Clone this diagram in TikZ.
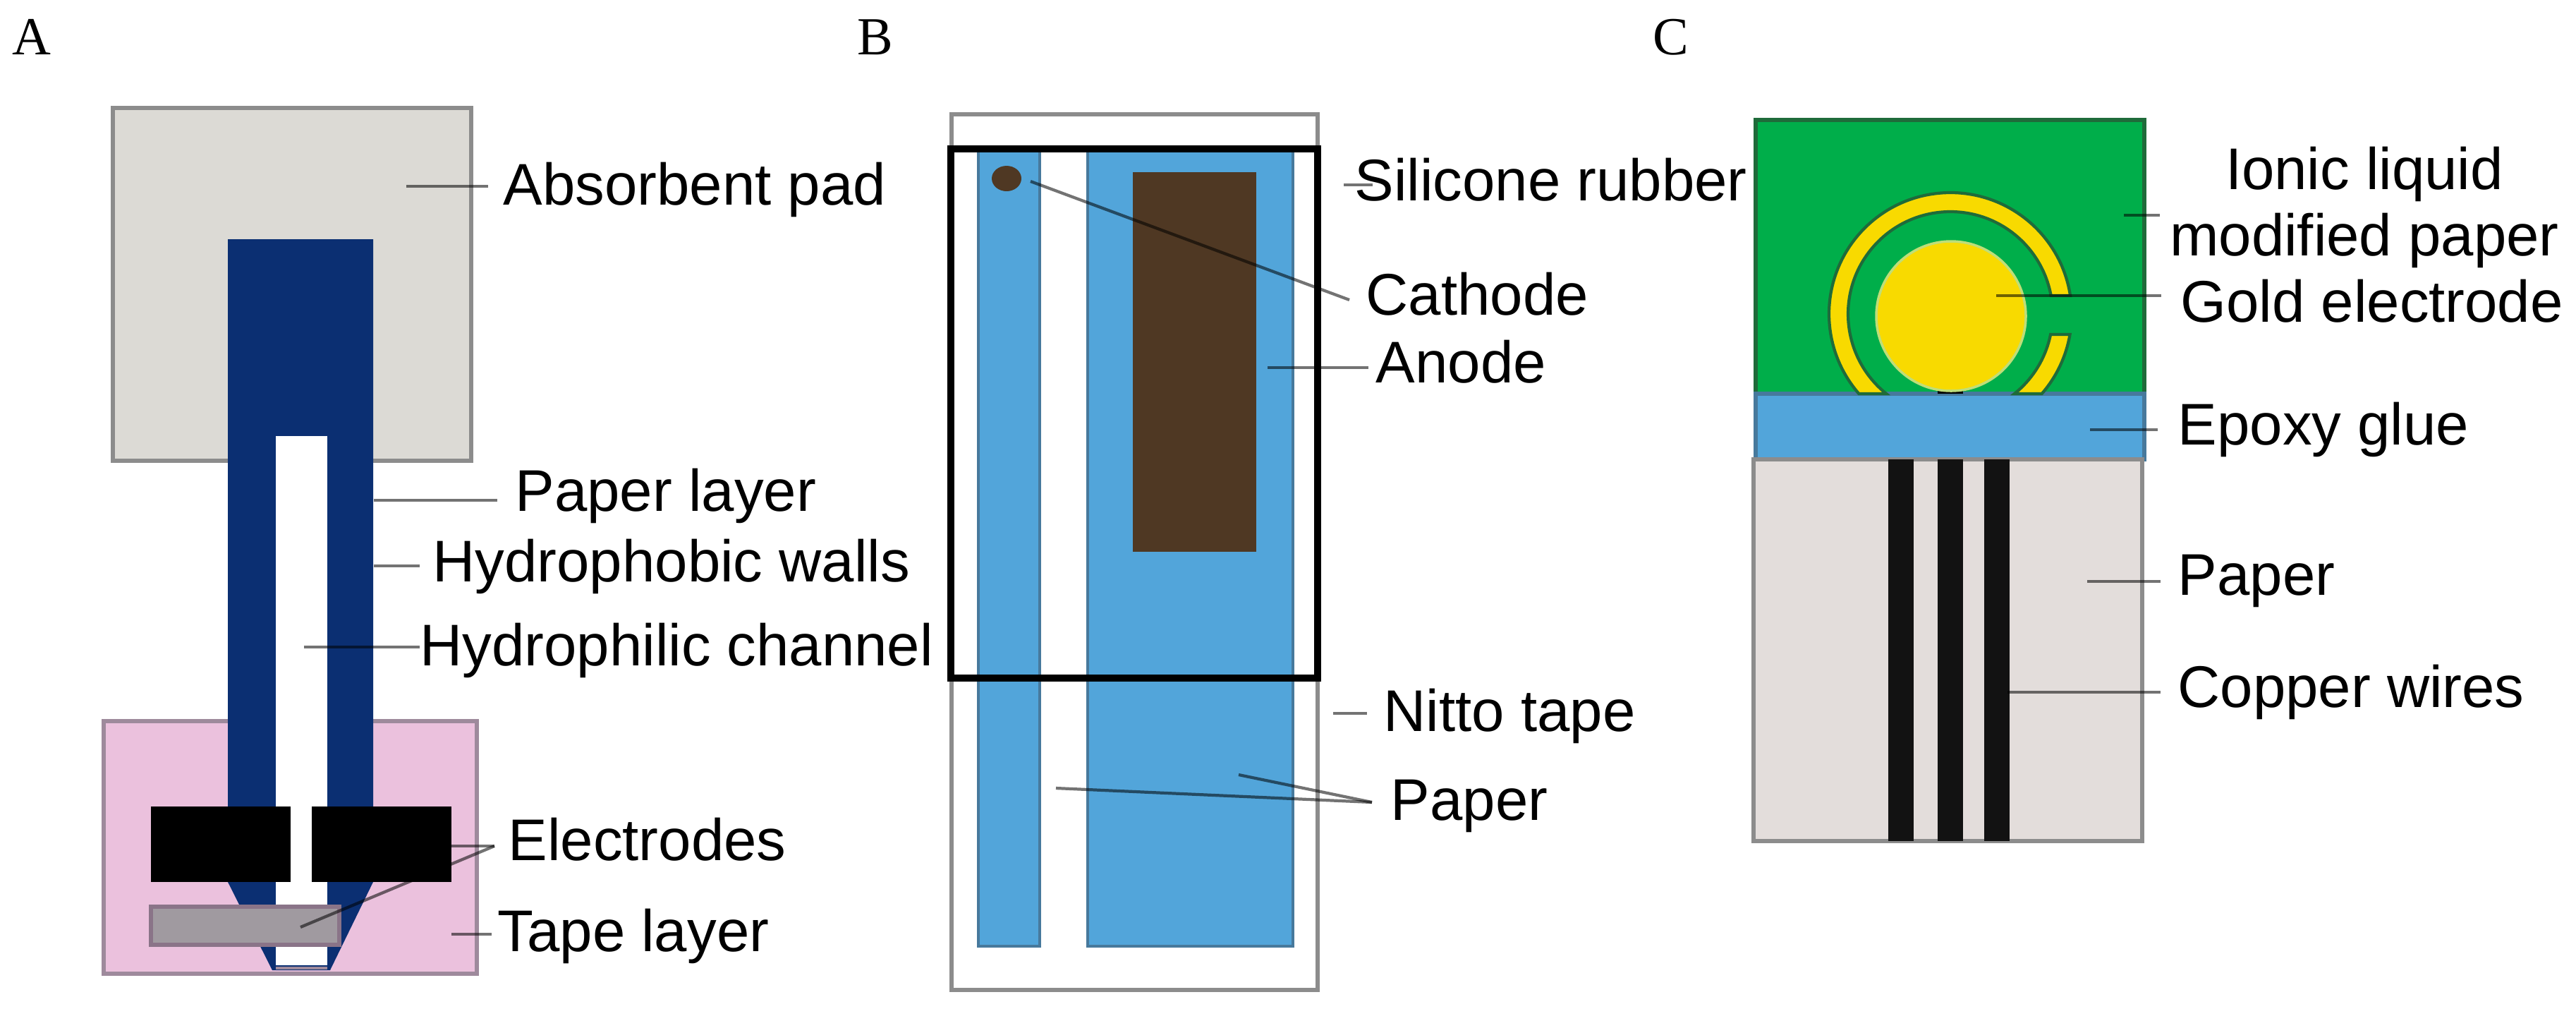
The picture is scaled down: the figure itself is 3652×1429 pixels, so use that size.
\documentclass[tikz,border=0pt]{standalone}
\usepackage{fontspec}
\setmainfont{Liberation Sans}
\newfontfamily\panelfont{Liberation Serif}
\usetikzlibrary{calc}
\definecolor{padgrey}{HTML}{DCDAD5}
\definecolor{tapepink}{HTML}{EBC1DD}
\definecolor{tapeedge}{HTML}{9E8A9C}
\definecolor{wallblue}{HTML}{0B2F72}
\definecolor{bargrey}{HTML}{A09AA0}
\definecolor{baredge}{HTML}{8A7488}
\definecolor{paperblue}{HTML}{52A5DA}
\definecolor{blueedge}{HTML}{47799C}
\definecolor{anodebrown}{HTML}{4F3823}
\definecolor{papergreen}{HTML}{00AE4A}
\definecolor{greenedge}{HTML}{1F6B3A}
\definecolor{goldfill}{HTML}{F8DA00}
\definecolor{paperrose}{HTML}{E3DDDB}

\begin{document}
\begin{tikzpicture}[x=0.01cm,y=-0.01cm,
    lbl/.style={anchor=base west,inner sep=0pt,font=\fontsize{23.7}{26.5}\selectfont},
    panel/.style={anchor=base west,inner sep=0pt,font=\panelfont\fontsize{21.6}{26}\selectfont},
    lead/.style={draw=black,opacity=.55,line width=1.2pt},
    box/.style={line width=1.7pt,draw=black!45}]
    \useasboundingbox[fill=white] (0,0) rectangle (3652,1429);
    %
    \node[panel] (panel_a) at (17,77) {A};
    \node[panel] (panel_b) at (1215,77) {B};
    \node[panel] (panel_c) at (2343,77) {C};
    %
    % A
    \draw[box,fill=padgrey] (160,153) rectangle (668,653);
    \draw[box,fill=tapepink,draw=tapeedge] (147,1022) rectangle (676,1380);
    \fill[wallblue] (323,339) -- (529,339) -- (529,1250) -- (468,1375) -- (386,1375) -- (323,1250) -- cycle;
    \fill[white] (391,618) rectangle (464,1368);
    \draw[tapeedge,line width=1.2pt] (391,1372) -- (464,1372);
    \draw[line width=1.7pt,draw=baredge,fill=bargrey] (214,1285) rectangle (481,1339);
    \node[lbl] (absorbent_pad) at (713,290) {Absorbent pad};
    \node[lbl] (paper_layer) at (730,724) {Paper layer};
    \node[lbl] (hydrophobic_walls) at (613,824) {Hydrophobic walls};
    \node[lbl] (hydrophilic_channel) at (595,943) {Hydrophilic channel};
    \node[lbl] (electrodes) at (720,1219) {Electrodes};
    \node[lbl] (tape_layer) at (705,1348) {Tape layer};
    \coordinate (pad_end) at (576,264);
    \coordinate (layer_end) at (530,709);
    \coordinate (walls_end) at (530,802);
    \coordinate (channel_end) at (431,917);
    \coordinate (electrode_end) at (609,1199);
    \coordinate (electrode_join) at (701,1199);
    \coordinate (bar_end) at (426,1314);
    \coordinate (tape_end) at (640,1324);
    \draw[lead,shorten >=0.21cm] (pad_end) -- (pad_end -| absorbent_pad.west);
    \draw[lead,shorten >=0.25cm] (layer_end) -- (layer_end -| paper_layer.west);
    \draw[lead,shorten >=0.18cm] (walls_end) -- (walls_end -| hydrophobic_walls.west);
    \draw[lead] (channel_end) -- (channel_end -| hydrophilic_channel.west);
    \draw[lead] (electrode_end) -- (electrode_join);
    \draw[lead] (bar_end) -- (electrode_join);
    \draw[lead,shorten >=0.08cm] (tape_end) -- (tape_end -| tape_layer.west);
    \fill[black] (214,1143) rectangle (412,1250);
    \fill[black] (442,1143) rectangle (640,1250);
    %
    % B
    \draw[box,fill=white] (1349,162) rectangle (1868,1403);
    \draw[line width=1.2pt,draw=blueedge,fill=paperblue] (1387,211) rectangle (1474,1341);
    \draw[line width=1.2pt,draw=blueedge,fill=paperblue] (1542,211) rectangle (1833,1341);
    \fill[anodebrown] (1606,244) rectangle (1781,782);
    \fill[anodebrown] (1427,253) ellipse [x radius=21,y radius=18];
    \draw[line width=2.9pt] (1348,211) rectangle (1868,961);
    \node[lbl] (silicone_rubber) at (1920,284) {Silicone rubber};
    \node[lbl] (cathode) at (1936,446) {Cathode};
    \node[lbl] (anode) at (1950,542) {Anode};
    \node[lbl] (nitto_tape) at (1961,1036) {Nitto tape};
    \node[lbl] (paper_b) at (1971,1162) {Paper};
    \coordinate (rubber_end) at (1905,262);
    \coordinate (cathode_end) at (1461,257);
    \coordinate (cathode_join) at (1913,425);
    \coordinate (anode_end) at (1797,521);
    \coordinate (nitto_end) at (1890,1011);
    \coordinate (strip_end) at (1497,1117);
    \coordinate (wide_end) at (1756,1098);
    \coordinate (paper_join) at (1945,1137);
    \draw[lead] (rubber_end) -- ($(rubber_end -| silicone_rubber.west)+(26,0)$);
    \draw[lead] (cathode_end) -- (cathode_join);
    \draw[lead,shorten >=0.1cm] (anode_end) -- (anode_end -| anode.west);
    \draw[lead,shorten >=0.23cm] (nitto_end) -- (nitto_end -| nitto_tape.west);
    \draw[lead] (strip_end) -- (paper_join);
    \draw[lead] (wide_end) -- (paper_join);
    %
    % C
    \draw[line width=1.7pt,draw=greenedge,fill=papergreen] (2489,170) rectangle (3040,558);
    \draw[line width=1.7pt,draw=blueedge,fill=paperblue] (2489,558) rectangle (3040,651);
    \draw[box,fill=paperrose] (2486,651) rectangle (3037,1192);
    \foreach \wirex in {2677,2747,2813}
        \fill[black!93] (\wirex,651) rectangle +(36,541);
    \fill[black] (2747,553) rectangle (2783,558);
    \fill[goldfill,draw=goldfill!60!papergreen!60!white,line width=1pt] (2766,448) circle [radius=106];
    \draw[line width=1.2pt,draw=greenedge,fill=goldfill]
        ([shift={(-8.7:172)}]2765,445) arc[start angle=-8.7,end angle=-221.1,radius=172]
        -- ([shift={(-231.2:145)}]2765,445) arc[start angle=-231.2,end angle=-10.3,radius=145] -- cycle;
    \draw[line width=1.2pt,draw=greenedge,fill=goldfill]
        ([shift={(9.7:172)}]2765,445) arc[start angle=9.7,end angle=41.1,radius=172]
        -- ([shift={(51.2:145)}]2765,445) arc[start angle=51.2,end angle=11.5,radius=145] -- cycle;
    \node[lbl,anchor=base,align=center] (ionic_liquid) at (3352,362) {Ionic liquid\\modified paper};
    \node[lbl] (gold_electrode) at (3091,456) {Gold electrode};
    \node[lbl] (epoxy_glue) at (3087,630) {Epoxy glue};
    \node[lbl] (paper_c) at (3087,843) {Paper};
    \node[lbl] (copper_wires) at (3087,1002) {Copper wires};
    \coordinate (ionic_end) at (3011,305);
    \coordinate (gold_end) at (2830,419);
    \coordinate (epoxy_end) at (2963,609);
    \coordinate (rose_end) at (2959,824);
    \coordinate (wire_end) at (2846,981);
    \draw[lead,shorten >=0.14cm] (ionic_end) -- (ionic_end -| ionic_liquid.west);
    \draw[lead,shorten >=0.27cm] (gold_end) -- (gold_end -| gold_electrode.west);
    \draw[lead,shorten >=0.28cm] (epoxy_end) -- (epoxy_end -| epoxy_glue.west);
    \draw[lead,shorten >=0.24cm] (rose_end) -- (rose_end -| paper_c.west);
    \draw[lead,shorten >=0.24cm] (wire_end) -- (wire_end -| copper_wires.west);
\end{tikzpicture}
\end{document}
